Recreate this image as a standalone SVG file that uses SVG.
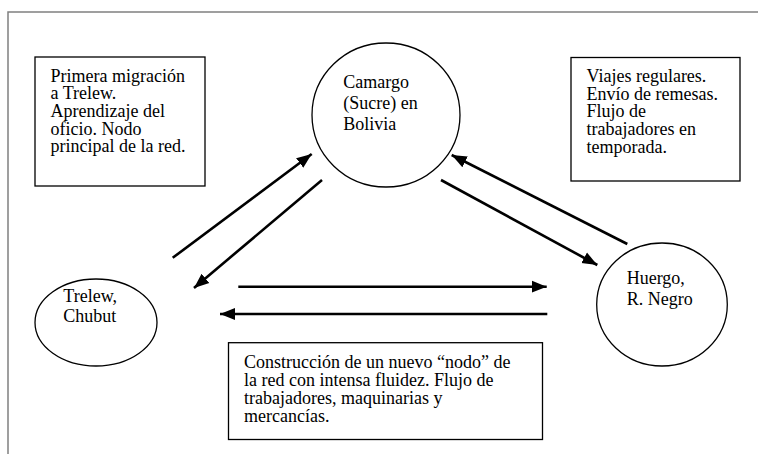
<svg xmlns="http://www.w3.org/2000/svg" width="758" height="454" viewBox="0 0 758 454">
<style>
.frame{stroke:#808080;stroke-width:1.5;fill:none}
.box{fill:#fff;stroke:#000;stroke-width:1.3}
.node{fill:#fff;stroke:#000;stroke-width:1.3}
.t{font-family:"Liberation Serif","Times New Roman",serif;font-size:18px;fill:#000}
.arr{stroke:#000;stroke-width:2.6;fill:none;marker-end:url(#ah)}
</style>
<defs>
<marker id="ah" markerUnits="userSpaceOnUse" markerWidth="16" markerHeight="14" refX="15" refY="6" orient="auto" viewBox="0 0 16 12">
<path d="M0,0 L15,6 L0,12 Z" fill="#000"/>
</marker>
</defs>
<rect width="758" height="454" fill="#fff"/>
<path class="frame" d="M8,454 L8,12 L758,12"/>
<g id="box-trelew">
<rect class="box" x="35" y="57" width="170" height="129"/>
<text class="t" x="50.5" y="81.7">Primera migración</text>
<text class="t" x="50.5" y="99.3">a Trelew.</text>
<text class="t" x="50.5" y="117">Aprendizaje del</text>
<text class="t" x="50.5" y="134.5">oficio. Nodo</text>
<text class="t" x="50.5" y="152.2">principal de la red.</text>
</g>
<g id="box-viajes">
<rect class="box" x="571" y="57.5" width="169" height="123.5"/>
<text class="t" x="586.5" y="81.7">Viajes regulares.</text>
<text class="t" x="586.5" y="99.6">Envío de remesas.</text>
<text class="t" x="586.5" y="117.4">Flujo de</text>
<text class="t" x="586.5" y="135">trabajadores en</text>
<text class="t" x="586.5" y="152.7">temporada.</text>
</g>
<g id="box-construccion">
<rect class="box" x="228.5" y="342.7" width="314" height="96.8"/>
<text class="t" x="244" y="368.3">Construcción de un nuevo “nodo” de</text>
<text class="t" x="244" y="386.3">la red con intensa fluidez. Flujo de</text>
<text class="t" x="244" y="404">trabajadores, maquinarias y</text>
<text class="t" x="244" y="421.7">mercancías.</text>
</g>
<g id="node-camargo">
<ellipse class="node" cx="386" cy="115" rx="74" ry="72"/>
<text class="t" x="343.3" y="87.7">Camargo</text>
<text class="t" x="343.3" y="108.6">(Sucre) en</text>
<text class="t" x="343.3" y="130">Bolivia</text>
</g>
<g id="node-trelew">
<ellipse class="node" cx="96" cy="322.5" rx="61" ry="43.5"/>
<text class="t" x="63.3" y="301.7">Trelew,</text>
<text class="t" x="63.3" y="321.7">Chubut</text>
</g>
<g id="node-huergo">
<ellipse class="node" cx="662" cy="304.5" rx="65.3" ry="61.5"/>
<text class="t" x="626.7" y="283.5">Huergo,</text>
<text class="t" x="626.7" y="304.5">R. Negro</text>
</g>
<g id="connectors">
<line class="arr" x1="172.7" y1="257.8" x2="311.7" y2="154"/>
<line class="arr" x1="322" y1="180" x2="194" y2="288"/>
<line class="arr" x1="441" y1="180" x2="597.3" y2="265"/>
<line class="arr" x1="627.3" y1="244" x2="451.7" y2="155"/>
<line class="arr" x1="238.3" y1="286.7" x2="546.7" y2="286.7"/>
<line class="arr" x1="547.3" y1="314" x2="220" y2="314"/>
</g>
</svg>
